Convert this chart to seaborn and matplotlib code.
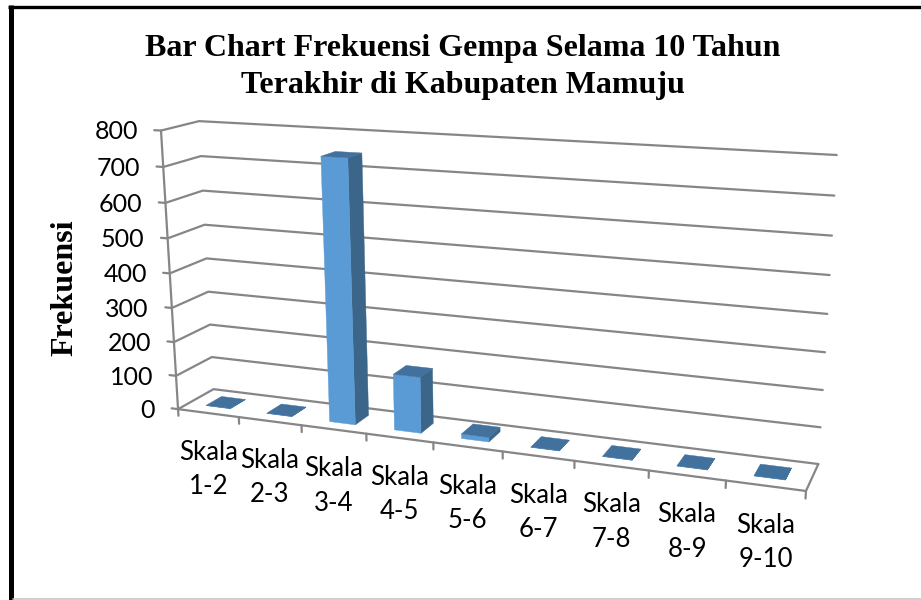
import numpy as np
import pandas as pd
import matplotlib.pyplot as plt
import seaborn as sns

# data
categories = ["1-2", "2-3", "3-4", "4-5", "5-6", "6-7", "7-8", "8-9", "9-10"]
frekuensi = [1, 1, 746, 160, 13, 1, 1, 1, 1]
y_ticks = [0, 100, 200, 300, 400, 500, 600, 700, 800]

title_text = "Bar Chart Frekuensi Gempa Selama 10 Tahun\nTerakhir di Kabupaten Mamuju"
y_label = "Frekuensi"

GRID = "#868686"
FRONT = "#5B9BD5"
SIDE = "#3B6589"
TOP = "#41719C"

sns.set_theme(style="white")
plt.rcParams["font.family"] = ["Lato", "DejaVu Sans"]

# camera of the fake 3D box: (x 0-1, depth 0-1, value 0-1) -> pixels
box_corners = [(0, 0, 1), (0, 0, 0), (0, 1, 1), (0, 1, 0), (1, 1, 1), (1, 1, 0), (1, 0, 0)]
box_pixels = [(160.7, 130.7), (178.3, 409), (199.3, 121), (213.3, 389.3),
              (836.7, 155), (818.3, 464), (806, 491)]

rows, rhs = [], []
for (x, d, v), (px, py) in zip(box_corners, box_pixels):
    rows.append([x, d, v, 1, 0, 0, 0, 0, -px * x, -px * d, -px * v])
    rows.append([0, 0, 0, 0, x, d, v, 1, -py * x, -py * d, -py * v])
    rhs += [px, py]
cam = np.append(np.linalg.lstsq(np.array(rows), np.array(rhs), rcond=None)[0], 1).reshape(3, 4)


def project(x, d, value):
    p = cam @ np.array([x, d, value / y_ticks[-1], 1.0])
    return p[0] / p[2], p[1] / p[2]


fig = plt.figure(figsize=(9.21, 6), dpi=100)
ax = fig.add_axes([0, 0, 1, 1])

# gridlines on both walls + axis lines + ticks, as one long table
lines = []
for t in y_ticks:
    lines.append([(-0.012, 0, t), (0, 0, t), (0, 1, t), (1, 1, t)])
lines.append([(0, 0, 0), (0, 0, 800)])
lines.append([(0, 0, 0), (1, 0, 0), (1, 1, 0)])
for i in range(len(categories) + 1):
    x = i / len(categories)
    lines.append([(x, 0, 0), (x, 0, -20)])

rows = []
for n, line in enumerate(lines):
    for p in line:
        px, py = project(*p)
        rows.append({"line": n, "px": px, "py": py})
grid_df = pd.DataFrame(rows)

sns.lineplot(data=grid_df, x="px", y="py", units="line", estimator=None, sort=False,
             color=GRID, linewidth=1.6, ax=ax, legend=False)

# bars
n_cat = len(categories)
d0, d1 = 0.28, 0.72
for i, val in enumerate(frekuensi):
    x0 = (i + 0.3) / n_cat
    x1 = (i + 0.7) / n_cat
    side = [project(x1, d0, 0), project(x1, d1, 0), project(x1, d1, val), project(x1, d0, val)]
    top = [project(x0, d0, val), project(x1, d0, val), project(x1, d1, val), project(x0, d1, val)]
    front = [project(x0, d0, 0), project(x1, d0, 0), project(x1, d0, val), project(x0, d0, val)]
    for face, col in [(side, SIDE), (front, FRONT), (top, TOP)]:
        xs, ys = zip(*face)
        ax.fill(xs, ys, color=col, linewidth=0.3, zorder=3)

# tick labels
for t in y_ticks:
    px, py = project(0, 0, t)
    ax.text(px - 23, py + 1.3, str(t), ha="right", va="center", fontsize=18, color="black")
for i, c in enumerate(categories):
    px, py = project((i + 0.5) / n_cat, 0, 0)
    ax.text(px, py + 56.5, "Skala\n" + c, ha="center", va="center", fontsize=18.5,
            linespacing=1.47, color="black")

ax.text(463, 67, title_text, ha="center", va="center", fontsize=23, fontweight="bold",
        family="Liberation Serif", linespacing=1.32, color="black")
ax.text(64.5, 288, y_label, rotation=90, ha="center", va="center", fontsize=23,
        fontweight="bold", family="Liberation Serif", color="black")

# picture frame
ax.plot([10.8, 10.8], [5, 600], color="black", linewidth=3.6, solid_capstyle="butt")
ax.plot([8.3, 921], [6.7, 6.7], color="black", linewidth=2.4, solid_capstyle="butt")
ax.plot([13, 921], [598.8, 598.8], color="#C8C8C8", linewidth=1.2)

ax.set_xlim(0, 921)
ax.set_ylim(600, 0)
ax.set_axis_off()

fig.savefig("out.png", dpi=100)
